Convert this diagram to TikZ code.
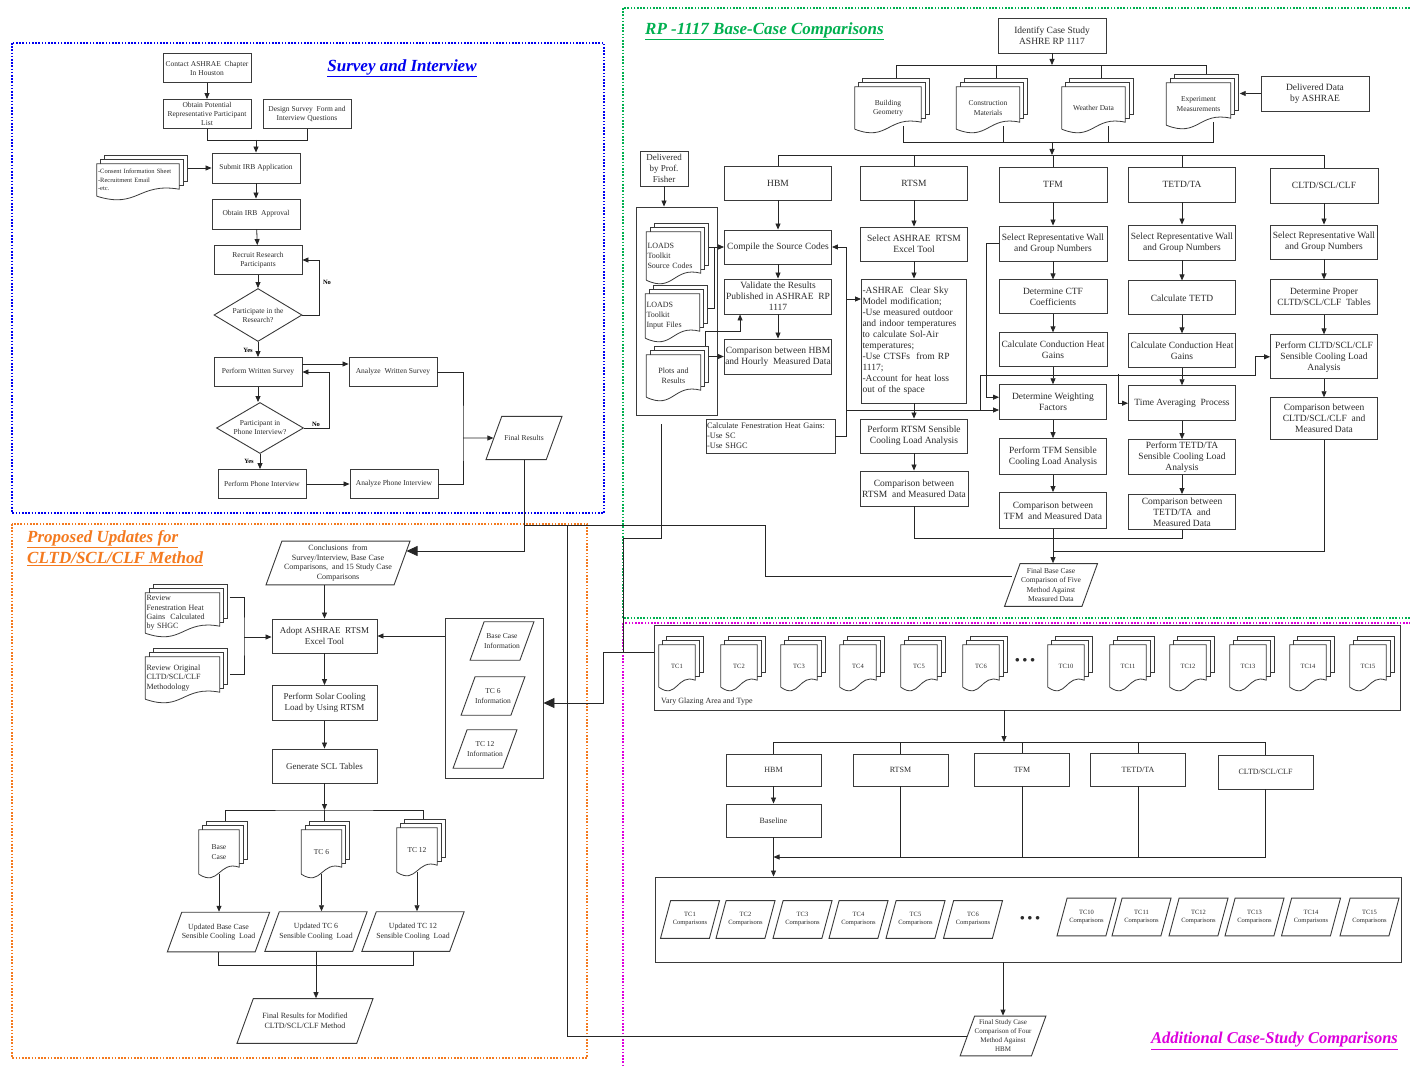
\documentclass[tikz,border=0pt]{standalone}
\usepackage{fontspec}
\setmainfont{Liberation Serif}
\usetikzlibrary{arrows.meta, positioning, shapes.geometric, calc}
\definecolor{surveyblue}{HTML}{0000F0}
\definecolor{updorange}{HTML}{F47A1F}
\definecolor{rpgreen}{HTML}{00B050}
\definecolor{casemagenta}{HTML}{DD00DD}
\definecolor{boxgray}{HTML}{3A3A3A}
\definecolor{textgray}{HTML}{2B2B2B}

% three stacked pages with a wavy lower edge, drawn round node #1
\newcommand{\docpages}[1]{%
  \draw[docline] (#1.south west) -- (#1.north west) -- (#1.north east)
    -- ($(#1.south east)+(0,7pt)$)
    .. controls ($(#1.south)+(0,14pt)$) and ($(#1.south)+(0,-13pt)$) .. (#1.south west);
  \foreach \k in {4,8}{%
    \draw[docline] ($(#1.north west)+(\k pt,\k pt-4pt)$) -- ++(0,4pt)
      -| ($(#1.south east)+(\k pt,7pt+\k pt)$) -- ++(-4pt,0);
  }%
}

\begin{document}
\begin{tikzpicture}[x=1pt, y=-1pt,
  node distance=18pt,
  every node/.style={text=textgray, align=center, inner sep=1pt},
  box/.style={draw=boxgray, line width=0.9pt, fill=white},
  sbox/.style={box, font=\fontsize{7.5}{9}\selectfont, minimum width=88, minimum height=29},
  rbox/.style={box, font=\fontsize{9.5}{11}\selectfont, minimum width=107, minimum height=34},
  abox/.style={box, font=\fontsize{8}{10}\selectfont, minimum width=95, minimum height=32},
  ask/.style={diamond, aspect=1.66, draw=boxgray, line width=0.9pt, fill=white,
              inner sep=0pt, font=\fontsize{7.5}{9}\selectfont},
  io/.style={trapezium, trapezium left angle=70, trapezium right angle=110,
             trapezium stretches body, draw=boxgray, line width=0.9pt, fill=white, inner xsep=0pt},
  doc/.style={inner sep=1pt},
  docline/.style={draw=boxgray, line width=0.8pt},
  wire/.style={draw=black!85, line width=0.8pt},
  arr/.style={wire, -{Triangle[length=6pt, width=5pt]}},
  bigarr/.style={wire, -{Triangle[length=11pt, width=10pt]}},
  yesno/.style={text=black, font=\fontsize{6.5}{8}\selectfont\bfseries},
  zone/.style={line width=1.6pt, dash pattern=on 1.6pt off 1.6pt},
  heading/.style={font=\fontsize{17}{21}\selectfont\bfseries\itshape, align=left}
]
\fill[white] (0,0) rectangle (1410,1067);
\useasboundingbox (0,0) rectangle (1410,1067);

% Zones
\draw[zone, draw=surveyblue] (12,43) rectangle (604,513);
\draw[zone, draw=updorange] (12,524) rectangle (587,1058);
\draw[zone, draw=rpgreen] (623,8) rectangle (1416,618);
\draw[zone, draw=casemagenta] (623,623) rectangle (1416,1080);

\node[heading, text=surveyblue] (tsurvey) at (402,68) {\underline{Survey and Interview}};
\node[heading, text=updorange, anchor=north west] (tupdate) at (26,529) {\underline{Proposed Updates for}\\\underline{CLTD/SCL/CLF Method}};
\node[heading, text=rpgreen, anchor=west] (trp) at (644,31) {\underline{RP -1117 Base-Case Comparisons}};
\node[heading, text=casemagenta, anchor=west, font=\fontsize{16.5}{20}\selectfont\bfseries\itshape] (tcase) at (1150,1041) {\underline{Additional Case-Study Comparisons}};

% Survey and Interview
\node[sbox] (contact) at (207,68) {Contact ASHRAE\ \ Chapter\\In Houston};
\node[sbox] (potential) at (207,114) {Obtain Potential\\Representative Participant\\List};
\node[sbox] (design) at (307,114) {Design Survey\ \ Form and\\Interview Questions};
\node[sbox, minimum height=30] (irb) at (256,168) {Submit IRB Application};
\node[doc, font=\fontsize{6.5}{8.5}\selectfont, text width=80, align=left, minimum height=32] (consent) at (138,180) {-Consent Information Sheet\\-Recruitment Email\\-etc.};
\node[sbox, minimum height=30] (approval) at (256,214) {Obtain IRB\ \ Approval};
\node[sbox] (recruit) at (258,260) {Recruit Research\\Participants};
\node[ask, minimum width=88, minimum height=53] (join) at (258,315) {Participate in the\\Research?};
\node[sbox] (written) at (258,372) {Perform Written Survey};
\node[sbox] (anwritten) at (393,372) {Analyze\ \ Written Survey};
\node[ask, minimum width=87, minimum height=51] (phone) at (260,428) {Participant in\\Phone Interview?};
\node[sbox] (interview) at (262,484) {Perform Phone Interview};
\node[sbox] (aninterview) at (394,484) {Analyze Phone Interview};
\node[io, font=\fontsize{7.5}{9}\selectfont, inner ysep=19pt, minimum width=76] (sfinal) at (524,438) {Final Results};
\node[yesno] (no1) at (327,282) {No};
\node[yesno] (yes1) at (248,350) {Yes};
\node[yesno] (no2) at (316,424) {No};
\node[yesno] (yes2) at (249,461) {Yes};

\draw[arr] (contact) -- (potential);
\draw[wire] (potential.south) -- ++(0,-11pt) -| (design.south);
\coordinate (svmerge) at (256,140);
\draw[arr] (svmerge) -- (irb.north);
\draw[arr] ($(irb.west -| consent.east)+(9pt,0)$) -- (irb.west);
\draw[arr] (irb) -- (approval);
\draw[arr] (approval) -- (recruit);
\draw[arr] (recruit) -- (join);
\draw[arr] (join.east) -- ++(17pt,0) |- (recruit.east);
\draw[arr] (join) -- (written);
\draw[arr] ($(written.east)+(0,8pt)$) -- ($(anwritten.west)+(0,8pt)$);
\draw[arr] (written.south) -- (written.south |- phone.north);
\draw[arr] (phone.east) -- ++(25pt,0) |- (written.east);
\draw[arr] (phone.south) -- (phone.south |- interview.north);
\draw[arr] (interview) -- (aninterview);
\coordinate (svjoin) at (463,438);
\draw[wire] (anwritten.east) -| (svjoin) |- (aninterview.east);
\draw[arr] (svjoin) -- (sfinal.west);

% Proposed updates
\node[io, font=\fontsize{8}{9.8}\selectfont, inner ysep=3.5pt, minimum width=144] (concl) at (338,563) {Conclusions\ \ from\\Survey/Interview, Base Case\\Comparisons,\ \ and 15 Study Case\\Comparisons};
\node[doc, font=\fontsize{8}{9.3}\selectfont, text width=72, align=left, minimum height=40] (revfen) at (182.5,613) {Review\\Fenestration Heat\\Gains\ \ Calculated\\by SHGC};
\node[doc, font=\fontsize{8}{9.3}\selectfont, text width=72, align=left, minimum height=42] (revorig) at (182.5,678) {Review Original\\CLTD/SCL/CLF\\Methodology};
\node[box, font=\fontsize{9}{11}\selectfont, minimum width=105, minimum height=34] (adopt) at (324.5,636) {Adopt ASHRAE\ \ RTSM\\Excel Tool};
\node[box, font=\fontsize{9}{11}\selectfont, minimum width=105, minimum height=35] (solar) at (324.5,703) {Perform Solar Cooling\\Load by Using RTSM};
\node[box, font=\fontsize{9}{11}\selectfont, minimum width=105, minimum height=34] (scl) at (324.5,766) {Generate SCL Tables};
\node[draw=boxgray, line width=0.9pt, minimum width=98, minimum height=160] (info) at (494,698) {};
\node[io, font=\fontsize{7.5}{9.5}\selectfont, inner ysep=12pt, minimum width=63] (infobase) at (502,641) {Base Case\\Information};
\node[io, font=\fontsize{7.5}{9.5}\selectfont, inner ysep=12pt, minimum width=63] (info6) at (493,696) {TC 6\\Information};
\node[io, font=\fontsize{7.5}{9.5}\selectfont, inner ysep=12pt, minimum width=63] (info12) at (485,749) {TC 12\\Information};
\node[doc, font=\fontsize{7.5}{9.5}\selectfont, minimum width=40, minimum height=44] (upbase) at (219,852) {Base\\Case};
\node[doc, font=\fontsize{7.5}{9.5}\selectfont, minimum width=40, minimum height=44] (up6) at (321.5,852) {TC 6};
\node[doc, font=\fontsize{7.5}{9.5}\selectfont, minimum width=40, minimum height=44] (up12) at (417,850) {TC 12};
\node[io, font=\fontsize{7.8}{9.5}\selectfont, inner ysep=11.5pt, minimum width=97] (loadbase) at (218.5,932) {Updated Base Case\\Sensible Cooling\ \ Load};
\node[io, font=\fontsize{7.8}{9.5}\selectfont, inner ysep=11.5pt, minimum width=97] (load6) at (316,931.5) {Updated TC 6\\Sensible Cooling\ \ Load};
\node[io, font=\fontsize{7.8}{9.5}\selectfont, inner ysep=11.5pt, minimum width=97] (load12) at (413,931.5) {Updated TC 12\\Sensible Cooling\ \ Load};
\node[io, font=\fontsize{8}{10}\selectfont, inner ysep=14.5pt, minimum width=136] (pfinal) at (305,1021) {Final Results for Modified\\CLTD/SCL/CLF Method};

\draw[bigarr] (sfinal.south) |- ($(concl.east)+(4pt,12pt)$);
\draw[arr] (concl.south -| adopt.north) -- (adopt.north);
\coordinate (revjoin) at (244,637);
\draw[wire] ($(revfen.north east)+(10pt,-5pt)$) -| (revjoin) |- ($(revorig.north east)+(10pt,-18pt)$);
\draw[arr] (revjoin) -- (adopt.west |- revjoin);
\draw[arr] (adopt) -- (solar);
\draw[arr] (solar) -- (scl);
\draw[arr] (info.west |- adopt.east) -- (adopt.east);
\coordinate (sclbar) at (324.5,810);
\draw[arr] (scl) -- (sclbar);
\draw[wire] ($(upbase.north)+(6pt,8pt)$) |- (sclbar) -| ($(up12.north)+(6pt,8pt)$);
\draw[wire] (sclbar) -- ($(up6.north)+(3pt,8pt)$);
\draw[arr] (upbase.south) -- (upbase.south |- loadbase.north);
\draw[arr] (up6.south) -- (up6.south |- load6.north);
\draw[arr] (up12.south) -- (up12.south |- load12.north);
\draw[wire] (loadbase.south) -- ++(0,-13pt) -| (load12.south);
\draw[arr] (load6.south) -- (load6.south |- pfinal.north);

% RP-1117 base case
\node[rbox, minimum width=108, minimum height=35] (identify) at (1052,35.5) {Identify Case Study\\ASHRE RP 1117};
\node[doc, font=\fontsize{7.5}{9.5}\selectfont, minimum width=66, minimum height=42] (geom) at (888,108) {Building\\Geometry};
\node[doc, font=\fontsize{7.5}{9.5}\selectfont, minimum width=63, minimum height=42] (constr) at (988,108) {Construction\\Materials};
\node[doc, font=\fontsize{7.5}{9.5}\selectfont, minimum width=63, minimum height=42] (weather) at (1093.5,108) {Weather Data};
\node[doc, font=\fontsize{7.5}{9.5}\selectfont, minimum width=64, minimum height=42] (measure) at (1198.5,104) {Experiment\\Measurements};
\node[rbox, minimum width=108, minimum height=35] (ashrae) at (1315,93.5) {Delivered Data\\by ASHRAE};

\node[rbox] (hbm) at (778,183) {HBM};
\node[rbox] (rtsm) at (914,183) {RTSM};
\node[rbox, minimum width=108, minimum height=35] (tfm) at (1053,184.5) {TFM};
\node[rbox, minimum height=35] (tetd) at (1182,184.5) {TETD/TA};
\node[rbox, minimum width=108, minimum height=35] (cltd) at (1324,185.5) {CLTD/SCL/CLF};

\node[box, font=\fontsize{9}{11}\selectfont, minimum width=48, minimum height=35] (fisher) at (664,168.5) {Delivered\\by Prof.\\Fisher};
\node[draw=boxgray, line width=0.9pt, minimum width=81, minimum height=208] (toolkit) at (676.5,311) {};
\node[doc, font=\fontsize{8}{10}\selectfont, text width=52, align=left, minimum height=48] (srccode) at (673.5,256) {LOADS\\Toolkit\\Source Codes};
\node[doc, font=\fontsize{8}{10}\selectfont, text width=52, align=left, minimum height=44] (inputs) at (672.5,316) {LOADS\\Toolkit\\Input Files};
\node[doc, font=\fontsize{8}{10}\selectfont, text width=52, minimum height=42] (plots) at (673.5,376) {Plots and\\Results};

\node[rbox] (compile) at (778,247) {Compile the Source Codes};
\node[rbox, minimum height=35] (validate) at (778,296.5) {Validate the Results\\Published in ASHRAE\ \ RP\\1117};
\node[rbox, minimum height=35] (cmphbm) at (778,356.5) {Comparison between HBM\\and Hourly\ \ Measured Data};
\node[box, font=\fontsize{8.3}{10}\selectfont, text width=127, align=left, minimum height=34] (fenest) at (770.5,436) {Calculate Fenestration Heat Gains:\\-Use SC\\-Use SHGC};

\node[rbox] (rtsmtool) at (914,244) {Select ASHRAE\ \ RTSM\\Excel Tool};
\node[box, font=\fontsize{9.5}{11}\selectfont, text width=103, align=left, minimum height=124] (rtsmsteps) at (914,341) {-ASHRAE\ \ Clear Sky\\Model modification;\\-Use measured outdoor\\and indoor temperatures\\to calculate Sol-Air\\temperatures;\\-Use CTSFs\ \ from RP\\1117;\\-Account for heat loss\\out of the space};
\node[rbox] (rtsmload) at (914,436) {Perform RTSM Sensible\\Cooling Load Analysis};
\node[rbox, minimum width=108, minimum height=35] (rtsmcmp) at (914,488.5) {Comparison between\\RTSM\ \ and Measured Data};

\node[rbox, minimum width=108, minimum height=35] (tfmwall) at (1053,243.5) {Select Representative Wall\\and Group Numbers};
\node[rbox, minimum width=108, below=of tfmwall] (tfmctf) {Determine CTF\\Coefficients};
\node[rbox, minimum width=108, below=of tfmctf] (tfmcond) {Calculate Conduction Heat\\Gains};
\node[rbox, minimum height=35, below=17pt of tfmcond] (tfmweight) {Determine Weighting\\Factors};
\node[rbox, minimum height=36, below=of tfmweight] (tfmload) {Perform TFM Sensible\\Cooling Load Analysis};
\node[rbox, minimum height=36, below=17pt of tfmload] (tfmcmp) {Comparison between\\TFM\ \ and Measured Data};

\node[rbox, minimum height=35] (tetdwall) at (1182,242.5) {Select Representative Wall\\and Group Numbers};
\node[rbox, below=20pt of tetdwall] (tetdcalc) {Calculate TETD};
\node[rbox, below=of tetdcalc] (tetdcond) {Calculate Conduction Heat\\Gains};
\node[rbox, minimum height=35, below=17pt of tetdcond] (tetdavg) {Time Averaging\ \ Process};
\node[rbox, minimum height=35, below=of tetdavg] (tetdload) {Perform TETD/TA\\Sensible Cooling Load\\Analysis};
\node[rbox, minimum height=35, below=19pt of tetdload] (tetdcmp) {Comparison between\\TETD/TA\ \ and\\Measured Data};

\node[rbox] (cltdwall) at (1324,242) {Select Representative Wall\\and Group Numbers};
\node[rbox, minimum height=35, below=20pt of cltdwall] (cltdtab) {Determine Proper\\CLTD/SCL/CLF\ \ Tables};
\node[rbox, minimum height=44, below=19pt of cltdtab] (cltdload) {Perform CLTD/SCL/CLF\\Sensible Cooling Load\\Analysis};
\node[rbox, minimum height=42, below=of cltdload] (cltdcmp) {Comparison between\\CLTD/SCL/CLF\ \ and\\Measured Data};

\node[io, font=\fontsize{7.5}{9.5}\selectfont, inner ysep=4.5pt, minimum width=93] (basefinal) at (1051,585) {Final Base Case\\Comparison of Five\\Method Against\\Measured Data};

\coordinate (rptop) at (1052,65);
\draw[arr] (identify) -- (rptop);
\foreach \d in {geom,constr,weather,measure}
  \draw[wire] ($(\d.north)+(8pt,8pt)$) |- (rptop);
\draw[arr] (ashrae.west) -- ($(ashrae.west -| measure.east)+(9pt,0)$);
\coordinate (rpmid) at (1052,142);
\coordinate (rpbar) at (1052,155);
\foreach \d in {geom,constr,weather,measure}
  \draw[wire] ($(\d.south)+(15pt,3pt)$) |- (rpmid);
\draw[arr] (rpmid) -- (rpbar);
\foreach \m in {hbm,rtsm,tfm,tetd,cltd}
  \draw[wire] (\m.north) |- (rpbar);

\draw[arr] (fisher) -- (fisher.south |- toolkit.north);
\draw[arr] ($(compile.west -| srccode.east)+(8pt,0)$) -- (compile.west);
\coordinate (codejoin) at (714,247);
\draw[wire] ($(inputs.east)+(8pt,8pt)$) -| (codejoin);
\draw[arr] ($(plots.north east)+(5pt,8pt)$) -- ++(0,15pt) -| ($(validate.south west)+(16pt,0)$);
\draw[arr] ($(cmphbm.west -| plots.east)+(8pt,0)$) -- (cmphbm.west);

\draw[arr] (hbm) -- (compile);
\draw[arr] (compile) -- (validate);
\draw[arr] (validate) -- (cmphbm);
\draw[arr] (rtsm) -- (rtsmtool);
\draw[arr] (rtsmtool) -- (rtsmsteps);
\draw[arr] (rtsmsteps) -- (rtsmload);
\draw[arr] (rtsmload) -- (rtsmcmp);
\draw[arr] (tfm) -- (tfmwall);
\draw[arr] (tfmwall) -- (tfmctf);
\draw[arr] (tfmctf) -- (tfmcond);
\draw[arr] (tfmcond) -- (tfmweight);
\draw[arr] (tfmweight) -- (tfmload);
\draw[arr] (tfmload) -- (tfmcmp);
\draw[arr] (tetd) -- (tetdwall);
\draw[arr] (tetdwall) -- (tetdcalc);
\draw[arr] (tetdcalc) -- (tetdcond);
\draw[arr] (tetdcond) -- (tetdavg);
\draw[arr] (tetdavg) -- (tetdload);
\draw[arr] (tetdload) -- (tetdcmp);
\draw[arr] (cltd) -- (cltdwall);
\draw[arr] (cltdwall) -- (cltdtab);
\draw[arr] (cltdtab) -- (cltdload);
\draw[arr] (cltdload) -- (cltdcmp);

% fenestration gains feed every method
\draw[arr] (fenest.east) -- ++(11pt,0) |- (compile.east);
\coordinate (fenrtsm) at (846,299);
\draw[arr] (fenrtsm) -- (fenrtsm -| rtsmsteps.west);
\coordinate (fenlow) at (846,410);
\draw[arr] (fenlow) -- (fenlow -| tfmweight.west);
\coordinate (fensplit) at (980,410);
\draw[arr] (fensplit) |- ($(cltdload.west)+(-15pt,-19pt)$) |- (cltdload.west);
\coordinate (fentetd) at (1118,374);
\draw[arr] (fentetd) |- (tetdavg.west);
\draw[arr] (tfmwall.west) -- ++(-12pt,0) |- ($(tfmweight.west)+(0,5pt)$);

\draw[wire] (rtsmcmp.south) -- ++(0,-32pt) -| (tetdcmp.south);
\draw[wire] (cltdcmp.south) |- ($(tfmcmp.south)+(0,-22pt)$);
\draw[arr] (tfmcmp.south) -- (tfmcmp.south |- basefinal.north);

% Additional case-study comparisons
\node[draw=boxgray, line width=0.9pt, minimum width=746, minimum height=85] (tcrow) at (1027,667.5) {};
\foreach \x/\n in {677/1,739/2,799/3,858/4,919/5,981/6,1066/10,1128/11,1188/12,1248/13,1308/14,1368/15}
  \node[doc, font=\fontsize{6.5}{8}\selectfont, minimum width=36, minimum height=42] (tc\n) at (\x,666) {TC\n};
\node[font=\fontsize{9}{9}\selectfont] (tcdots) at (1025,660) {$\bullet$\hspace{3pt}$\bullet$\hspace{3pt}$\bullet$};
\node[anchor=west, font=\fontsize{8}{10}\selectfont] (vary) at (660,702) {Vary Glazing Area and Type};

\node[abox] (ahbm) at (773.5,770) {HBM};
\node[abox] (artsm) at (900.5,770) {RTSM};
\node[abox, minimum height=33] (atfm) at (1022,769.5) {TFM};
\node[abox, minimum height=33] (atetd) at (1138,769.5) {TETD/TA};
\node[abox, minimum height=34] (acltd) at (1265.5,772) {CLTD/SCL/CLF};
\node[abox, minimum height=33] (abase) at (773.5,820.5) {Baseline};

\node[draw=boxgray, line width=0.9pt, minimum width=746, minimum height=85] (cmprow) at (1028,919.5) {};
\foreach \x/\y/\n in {690/919.5/1, 745.5/919.5/2, 802.5/919.5/3, 858.5/919.5/4, 915.5/919.5/5, 973/919.5/6, 1086.5/917/10, 1141.5/917/11, 1198.5/917/12, 1254.5/917/13, 1311/917/14, 1369.5/917/15}
  \node[io, trapezium left angle=75, trapezium right angle=105, font=\fontsize{6.5}{8}\selectfont, inner ysep=12pt, minimum width=59] (cmp\n) at (\x,\y) {TC\n\\Comparisons};
\node[font=\fontsize{9}{9}\selectfont] (cmpdots) at (1030,918) {$\bullet$\hspace{3pt}$\bullet$\hspace{3pt}$\bullet$};
\node[io, font=\fontsize{7}{9}\selectfont, inner ysep=4pt, minimum width=82] (studyfinal) at (1003,1036) {Final Study Case\\Comparison of Four\\Method Against\\HBM};

\coordinate (tcbar) at (1004,742);
\draw[arr] (tcrow.south -| tcbar) -- (tcbar);
\foreach \m in {ahbm,artsm,atfm,atetd,acltd}
  \draw[wire] (\m.north) |- (tcbar);
\draw[arr] (ahbm) -- (abase);
\coordinate (cmpbar) at (773.5,857);
\foreach \m in {artsm,atfm,atetd}
  \draw[wire] (\m.south) -- (\m.south |- cmpbar);
\draw[arr] (acltd.south) |- (cmpbar);
\draw[arr] (abase) -- (abase.south |- cmprow.north);
\draw[arr] (cmprow.south -| studyfinal.north) -- (studyfinal.north);

% Links between the zones
\coordinate (xfinal) at (765,525);
\draw[wire] ($(basefinal.west)+(0,9pt)$) -| (xfinal) -- (xfinal -| sfinal.south);
\coordinate (xstudy) at (567,525);
\draw[wire] (studyfinal.west) -| (xstudy);
\coordinate (xtool) at (623,538);
\coordinate (xtc) at (623,652);
\draw[wire] ($(toolkit.south)+(-15.5pt,-9pt)$) |- (xtool) -- (xtc);
\coordinate (xinfo) at (603,703);
\draw[bigarr] (tcrow.west |- xtc) -| (xinfo) -- (xinfo -| info.east);

% page outlines
\foreach \d in {consent,revfen,revorig,upbase,up6,up12,geom,constr,weather,measure,srccode,inputs,plots}{
  \docpages{\d}
}
\foreach \n in {1,2,3,4,5,6,10,11,12,13,14,15}{
  \docpages{tc\n}
}

\end{tikzpicture}
\end{document}
